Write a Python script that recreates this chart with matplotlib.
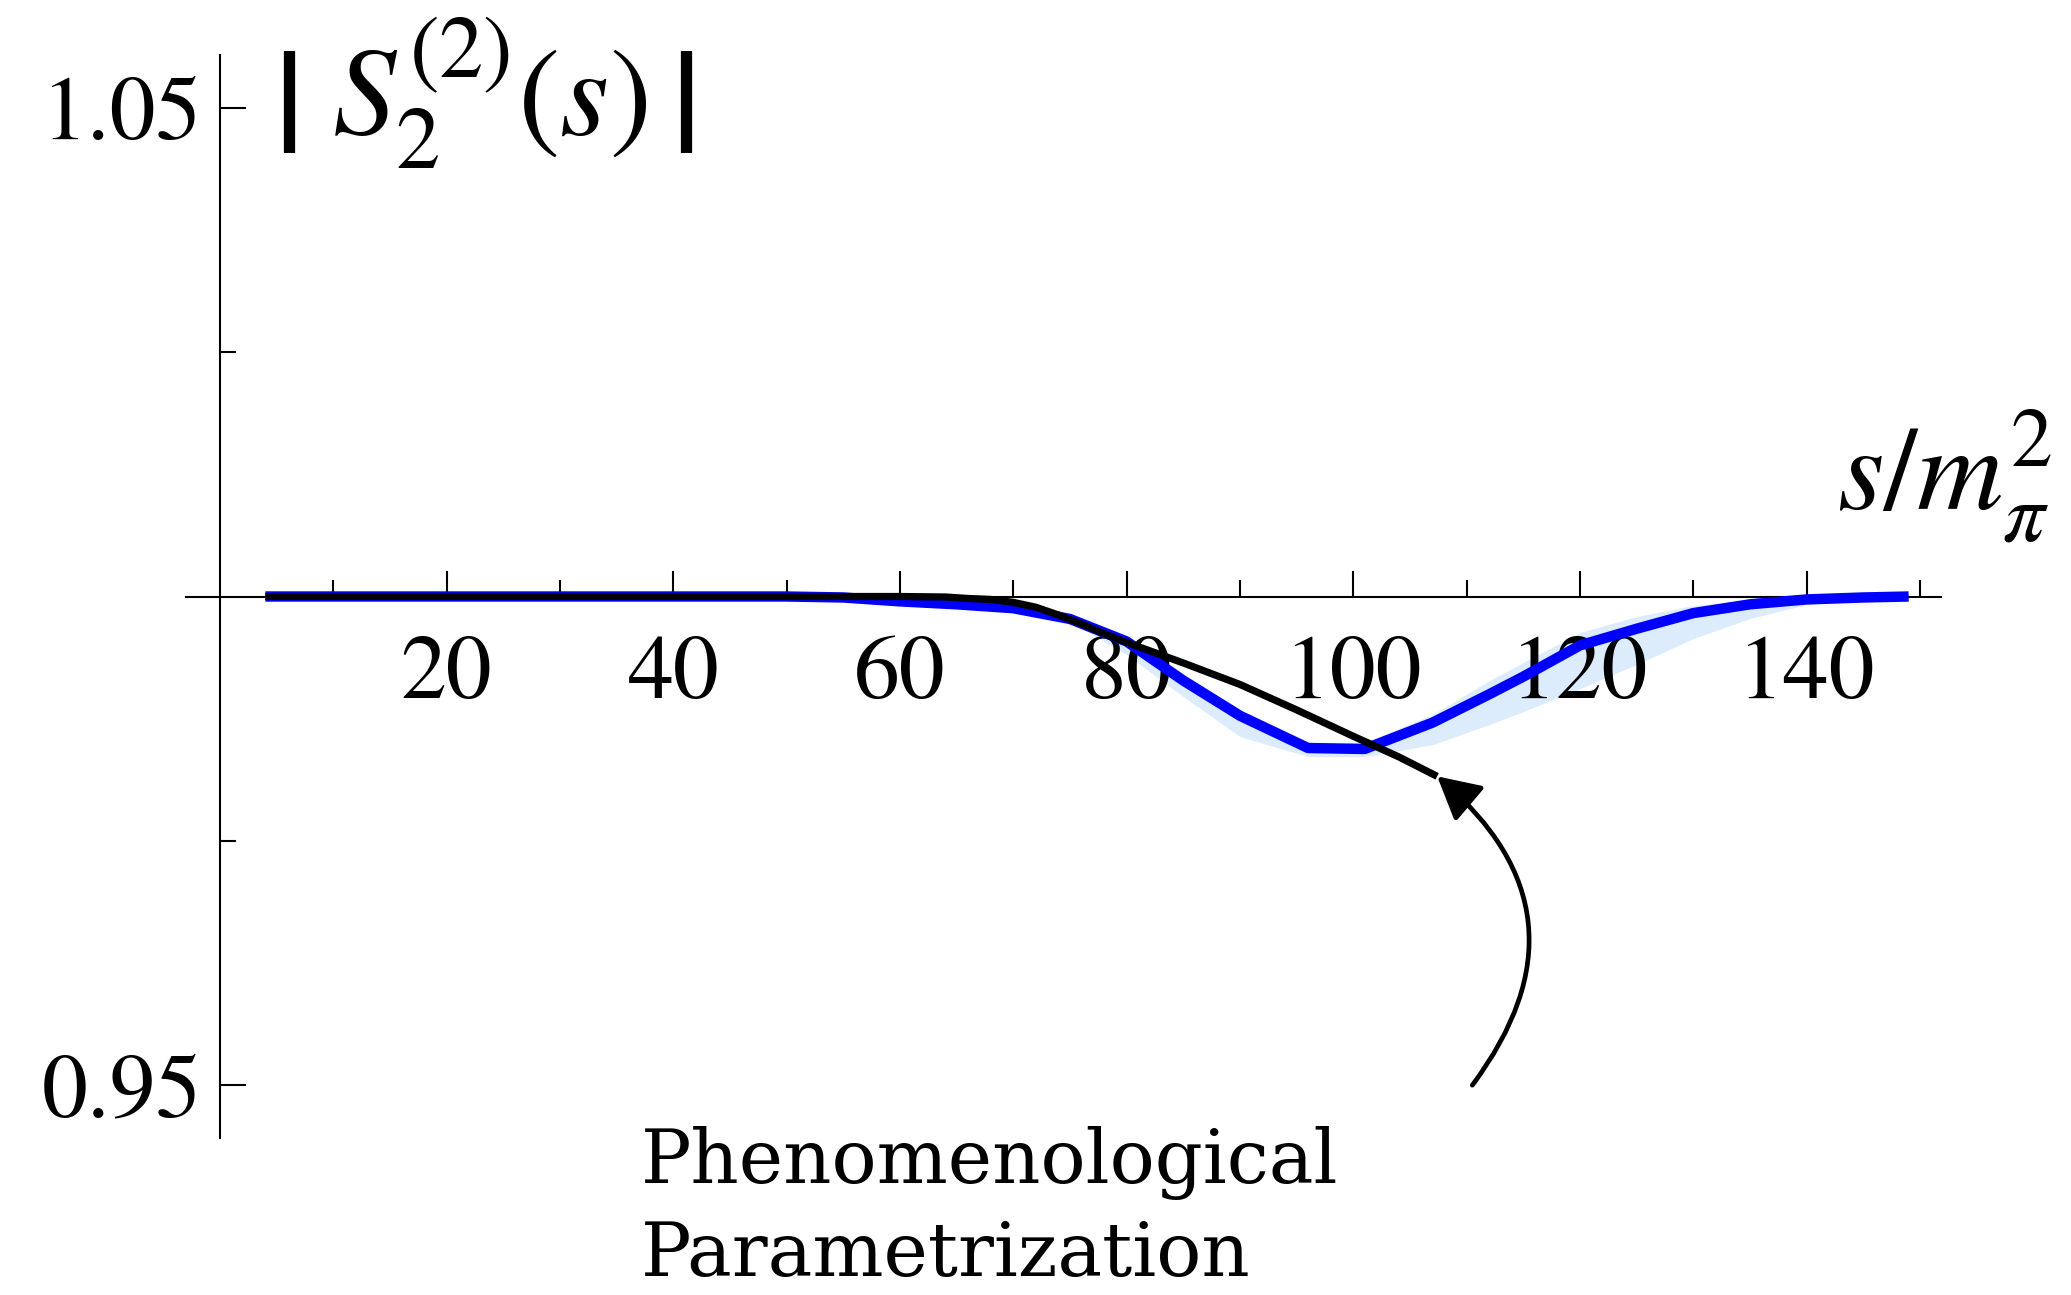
import matplotlib
matplotlib.use("Agg")
import matplotlib.pyplot as plt
from matplotlib.patches import FancyArrowPatch
from matplotlib.ticker import FixedLocator, NullFormatter

# |S_2^(2)(s)| versus s/m_pi^2
s_vals = [4, 10, 20, 30, 40, 50, 55, 60, 65, 70, 75, 80, 85, 90, 96, 101,
          107, 112, 115, 120, 125, 130, 135, 140, 145, 149]
s2_abs = [1.0000, 1.0000, 1.0000, 1.0000, 1.0000, 1.0000, 0.9999, 0.9995,
          0.9992, 0.9988, 0.9977, 0.9954, 0.9914, 0.9878, 0.9845, 0.9844,
          0.9871, 0.9900, 0.9918, 0.9950, 0.9967, 0.9983, 0.9992, 0.9997,
          0.9999, 1.0000]
band_lo = [1.0000, 1.0000, 1.0000, 1.0000, 1.0000, 1.0000, 0.9999, 0.9995,
           0.9992, 0.9988, 0.99744, 0.99406, 0.98976, 0.98567, 0.98362,
           0.98362, 0.98485, 0.98690, 0.98823, 0.99058, 0.99304, 0.99570,
           0.99775, 0.99918, 0.9998, 1.0000]
band_hi = [1.0000, 1.0000, 1.0000, 1.0000, 1.0000, 1.0000, 0.9999, 0.9995,
           0.9992, 0.9988, 0.99795, 0.99570, 0.99181, 0.98823, 0.98506,
           0.98506, 0.98792, 0.99140, 0.99324, 0.99632, 0.99795, 0.99908,
           0.99959, 0.9999, 1.0000, 1.0000]

# phenomenological parametrization
pheno_s = [4, 20, 40, 60, 64, 66, 68, 70, 72, 74, 76, 78, 80, 85, 90, 95,
           100, 104, 107.4]
pheno_abs = [1.0000, 1.0000, 1.0000, 1.0000, 0.99995, 0.9998, 0.9997,
             0.9994, 0.9989, 0.9981, 0.9972, 0.9962, 0.9953, 0.9932, 0.9910,
             0.9884, 0.9857, 0.9836, 0.9816]

x_major = [20, 40, 60, 80, 100, 120, 140]
x_minor = [10, 30, 50, 70, 90, 110, 130, 150]
y_major = [0.95, 1.05]
y_minor = [0.975, 1.025]
y_major_labels = ["0.95", "1.05"]

plt.rcParams["font.family"] = "STIXGeneral"
plt.rcParams["mathtext.fontset"] = "stix"

W, H = 2071, 1295
fig = plt.figure(figsize=(W / 100, H / 100), dpi=100)
ax = fig.add_axes([186 / W, 1 - 1138 / H, (1940.7 - 186) / W, (1138 - 55) / H])
ax.set_xlim(-3.0, 151.83)
ax.set_ylim(0.9446, 1.0554)

for side in ("top", "right"):
    ax.spines[side].set_visible(False)
ax.spines["left"].set_position(("data", 0))
ax.spines["bottom"].set_position(("data", 1.0))
for side in ("left", "bottom"):
    ax.spines[side].set_linewidth(1.5)
    ax.spines[side].set_zorder(2)

ax.xaxis.set_major_locator(FixedLocator(x_major))
ax.xaxis.set_minor_locator(FixedLocator(x_minor))
ax.xaxis.set_minor_formatter(NullFormatter())
ax.yaxis.set_major_locator(FixedLocator(y_major))
ax.set_yticklabels(y_major_labels)
ax.yaxis.set_minor_locator(FixedLocator(y_minor))
ax.yaxis.set_minor_formatter(NullFormatter())

ax.tick_params(axis="x", which="major", direction="in", length=19, width=1.5,
               pad=28, labelsize=66)
ax.tick_params(axis="x", which="minor", direction="in", length=12, width=1.5)
ax.tick_params(axis="y", which="major", direction="in", length=19, width=1.5,
               pad=13, labelsize=66)
ax.tick_params(axis="y", which="minor", direction="in", length=11.5, width=1.5)

ax.fill_between(s_vals, band_lo, band_hi, color="#dcecfd", lw=0, zorder=1)
ax.plot(s_vals, s2_abs, color="#0000ff", lw=7.5, solid_capstyle="butt",
        solid_joinstyle="round", zorder=3)
ax.plot(pheno_s, pheno_abs, color="black", lw=5.2, solid_capstyle="butt",
        solid_joinstyle="round", zorder=4)

# curved pointer from the caption to the end of the parametrization curve
arrow = FancyArrowPatch(
    posA=(110.5, 0.9500), posB=(pheno_s[-1], pheno_abs[-1]),
    connectionstyle="arc3,rad=0.47",
    arrowstyle="-|>,head_length=2.6,head_width=1.4",
    mutation_scale=10, lw=3.4, color="black",
    shrinkA=0, shrinkB=0, transform=ax.transData, clip_on=False, zorder=5)
ax.add_patch(arrow)

# axis titles: |S_2^(2)(s)| with tall absolute-value bars, and s/m_pi^2
fig.text(270 / W, 1 - 128 / H, "|", family="DejaVu Sans", fontweight="bold",
         fontsize=73, ha="left", va="baseline")
fig.text(332 / W, 1 - 135 / H, r"$S_2^{(2)}(s)$", fontsize=91,
         ha="left", va="baseline")
fig.text(667 / W, 1 - 128 / H, "|", family="DejaVu Sans", fontweight="bold",
         fontsize=73, ha="left", va="baseline")
fig.text(1837 / W, 1 - 510 / H, r"$s/m_\pi^2$", fontsize=86,
         ha="left", va="baseline")

fig.text(641 / W, 1 - 1183 / H, "Phenomenological", family="DejaVu Serif",
         fontsize=54, ha="left", va="baseline")
fig.text(641 / W, 1 - 1276 / H, "Parametrization", family="DejaVu Serif",
         fontsize=54, ha="left", va="baseline")

fig.savefig("out.png", dpi=100)
